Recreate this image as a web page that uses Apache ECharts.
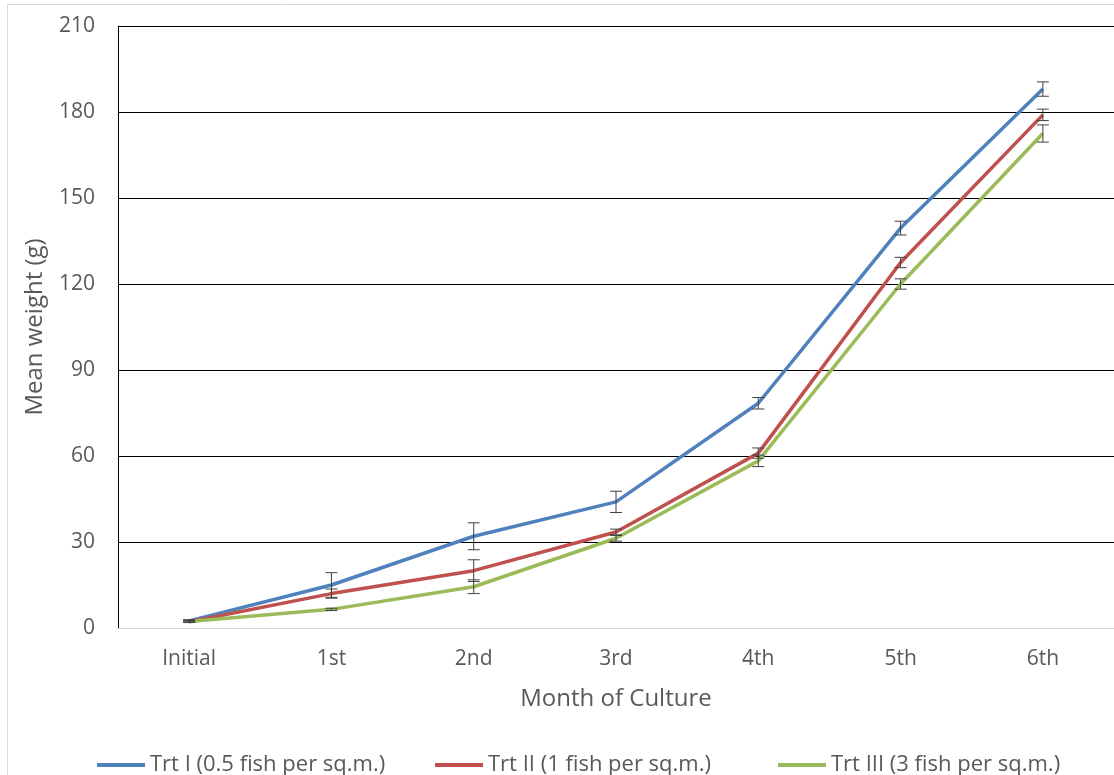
<!DOCTYPE html>
<html><head><meta charset="utf-8">
<script src="https://cdn.jsdelivr.net/npm/echarts@6/dist/echarts.min.js"></script>
<style>html,body{margin:0;padding:0;background:#fff}#c{width:1114px;height:775px}</style>
</head><body><div id="c"></div>
<script>
const categories = ['Initial','1st','2nd','3rd','4th','5th','6th'];
const seriesNames = ['Trt I (0.5 fish per sq.m.)','Trt II (1 fish per sq.m.)','Trt III (3 fish per sq.m.)'];
const trt1 = [2.5, 15, 32, 44, 78.4, 139.5, 188];
const trt2 = [2.2, 12, 20, 33.5, 61, 127.5, 179];
const trt3 = [2.3, 6.5, 14.4, 31.3, 58.3, 120, 172.5];
const err1 = [0.4, 4.3, 4.7, 3.7, 2, 2.4, 2.5];
const err2 = [0.3, 1.6, 3.8, 1.0, 1.8, 1.8, 2];
const err3 = [0.3, 0.4, 2.4, 1.0, 2.0, 1.8, 3];
const yTicks = [0,30,60,90,120,150,180,210];
const colors = ['#4F81BD','#C0504D','#9BBB59'];
const legendLefts = [97, 435, 778];

const chart = echarts.init(document.getElementById('c'));
const font = '"Open Sans", "Liberation Sans", sans-serif';

function errSeries(vals, errs, name) {
  return {
    type: 'custom', name: name + ' err', z: 5, silent: true,
    data: vals.map((v,i)=>[i, v-errs[i], v+errs[i]]),
    renderItem: function(params, api){
      const lo = api.coord([api.value(0), api.value(1)]);
      const hi = api.coord([api.value(0), api.value(2)]);
      const w = 6;
      const st = {stroke:'#404040', lineWidth:1};
      return {type:'group', children:[
        {type:'line', shape:{x1:lo[0],y1:lo[1],x2:hi[0],y2:hi[1]}, style:st},
        {type:'line', shape:{x1:lo[0]-w,y1:lo[1],x2:lo[0]+w,y2:lo[1]}, style:st},
        {type:'line', shape:{x1:hi[0]-w,y1:hi[1],x2:hi[0]+w,y2:hi[1]}, style:st}
      ]};
    }
  };
}
function lineSeries(vals, name, color) {
  return {type:'line', name:name, data:vals, symbol:'none', z:4,
    lineStyle:{color:color, width:3.5}, itemStyle:{color:color}};
}

chart.setOption({
  animation:false,
  graphic:[{type:'rect', shape:{x:7.5,y:4.5,width:1200,height:900}, style:{fill:'none', stroke:'#d9d9d9', lineWidth:1}}],
  grid:{left:118, top:26, right:-5, bottom:147},
  legend:seriesNames.map((n,i)=>({top:754, left:legendLefts[i], padding:0, itemWidth:48, itemHeight:4,
    data:[{name:n, icon:'rect', itemStyle:{color:colors[i]}}],
    textStyle:{fontFamily:font, fontSize:22, color:'#595959'}})),
  xAxis:{type:'category', data:categories, boundaryGap:true,
    name:'Month of Culture', nameLocation:'middle', nameGap:59,
    nameTextStyle:{fontFamily:font, fontSize:24, color:'#595959'},
    axisLine:{lineStyle:{color:'#d9d9d9', width:1}}, axisTick:{show:false},
    axisLabel:{fontFamily:font, fontSize:21, color:'#595959', margin:21}},
  yAxis:{type:'value', min:0, max:210, interval:30,
    name:'Mean weight (g)', nameLocation:'middle', nameGap:71, nameRotate:90,
    nameTextStyle:{fontFamily:font, fontSize:24, color:'#595959'},
    axisLine:{show:true, lineStyle:{color:'#000', width:1}}, axisTick:{show:false},
    splitLine:{lineStyle:{color:'#000', width:1}},
    axisLabel:{fontFamily:font, fontSize:21, color:'#595959', margin:23,
      formatter:v=>yTicks.includes(v)?String(v):''}},
  series:[
    lineSeries(trt1, seriesNames[0], colors[0]),
    lineSeries(trt2, seriesNames[1], colors[1]),
    lineSeries(trt3, seriesNames[2], colors[2]),
    errSeries(trt1, err1, seriesNames[0]),
    errSeries(trt2, err2, seriesNames[1]),
    errSeries(trt3, err3, seriesNames[2])
  ]
});
</script></body></html>
